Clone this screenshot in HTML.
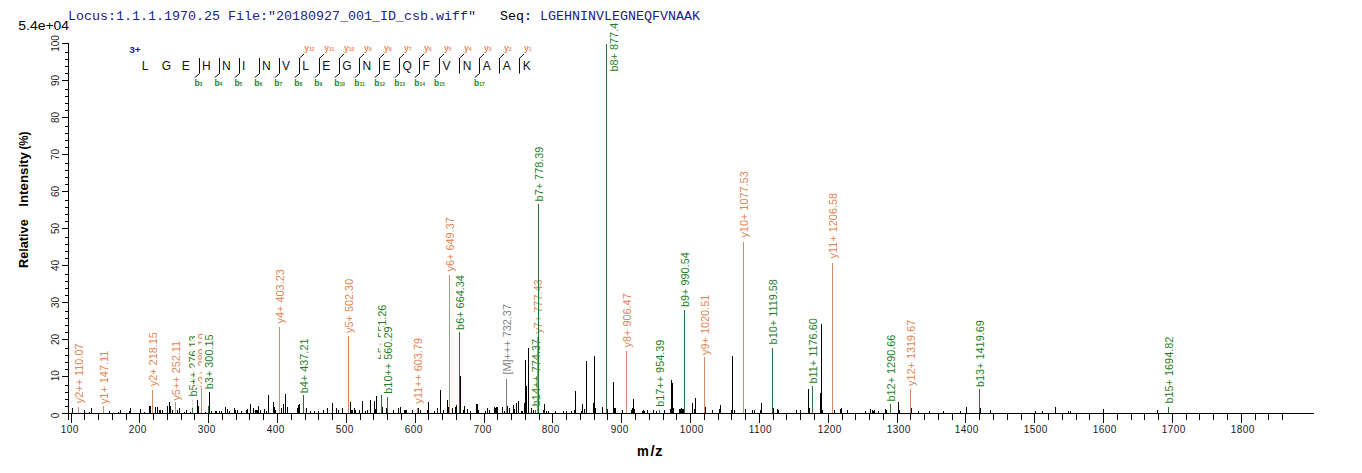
<!DOCTYPE html><html><head><meta charset="utf-8"><style>html,body{margin:0;padding:0;background:#fff;}svg{display:block;}text{font-family:"Liberation Sans",sans-serif;}.m{font-family:"Liberation Mono",monospace;}</style></head><body>
<svg width="1362" height="473" viewBox="0 0 1362 473">
<rect width="1362" height="473" fill="#fff"/>
<path d="M62 413.5H1314 M68.5 43V420 M62 413.5H68 M65 406.5H68 M65 399.5H68 M65 392.5H68 M65 385.5H68 M62 376.5H68 M65 369.5H68 M65 362.5H68 M65 355.5H68 M65 348.5H68 M62 339.5H68 M65 332.5H68 M65 325.5H68 M65 318.5H68 M65 311.5H68 M62 302.5H68 M65 295.5H68 M65 288.5H68 M65 281.5H68 M65 274.5H68 M62 265.5H68 M65 258.5H68 M65 251.5H68 M65 244.5H68 M65 237.5H68 M62 228.5H68 M65 221.5H68 M65 214.5H68 M65 207.5H68 M65 200.5H68 M62 191.5H68 M65 184.5H68 M65 177.5H68 M65 170.5H68 M65 163.5H68 M62 154.5H68 M65 147.5H68 M65 140.5H68 M65 133.5H68 M65 126.5H68 M62 117.5H68 M65 110.5H68 M65 103.5H68 M65 96.5H68 M65 89.5H68 M62 80.5H68 M65 73.5H68 M65 66.5H68 M65 59.5H68 M65 52.5H68 M62 43.5H68 M71.5 413V423 M84.5 413V420 M98.5 413V420 M112.5 413V420 M126.5 413V420 M139.5 413V423 M153.5 413V420 M167.5 413V420 M181.5 413V420 M194.5 413V420 M208.5 413V423 M222.5 413V420 M236.5 413V420 M249.5 413V420 M263.5 413V420 M277.5 413V423 M291.5 413V420 M305.5 413V420 M318.5 413V420 M332.5 413V420 M346.5 413V423 M360.5 413V420 M373.5 413V420 M387.5 413V420 M401.5 413V420 M415.5 413V423 M428.5 413V420 M442.5 413V420 M456.5 413V420 M470.5 413V420 M484.5 413V423 M497.5 413V420 M511.5 413V420 M525.5 413V420 M539.5 413V420 M552.5 413V423 M566.5 413V420 M580.5 413V420 M594.5 413V420 M607.5 413V420 M621.5 413V423 M635.5 413V420 M649.5 413V420 M663.5 413V420 M676.5 413V420 M690.5 413V423 M704.5 413V420 M718.5 413V420 M731.5 413V420 M745.5 413V420 M759.5 413V423 M773.5 413V420 M786.5 413V420 M800.5 413V420 M814.5 413V420 M828.5 413V423 M842.5 413V420 M855.5 413V420 M869.5 413V420 M883.5 413V420 M897.5 413V423 M910.5 413V420 M924.5 413V420 M938.5 413V420 M952.5 413V420 M965.5 413V423 M979.5 413V420 M993.5 413V420 M1007.5 413V420 M1021.5 413V420 M1034.5 413V423 M1048.5 413V420 M1062.5 413V420 M1076.5 413V420 M1089.5 413V420 M1103.5 413V423 M1117.5 413V420 M1131.5 413V420 M1144.5 413V420 M1158.5 413V420 M1172.5 413V423 M1186.5 413V420 M1199.5 413V420 M1213.5 413V420 M1227.5 413V420 M1241.5 413V423 M1255.5 413V420 M1268.5 413V420 M1282.5 413V420" stroke="#000" stroke-width="1" fill="none" shape-rendering="crispEdges"/>
<g font-size="10" letter-spacing="0.45" fill="#1a1a1a"><text x="60.8" y="432.6">100</text><text x="128.8" y="432.6">200</text><text x="197.8" y="432.6">300</text><text x="266.8" y="432.6">400</text><text x="335.8" y="432.6">500</text><text x="404.8" y="432.6">600</text><text x="473.8" y="432.6">700</text><text x="541.8" y="432.6">800</text><text x="610.8" y="432.6">900</text><text x="679.8" y="432.6">1000</text><text x="748.8" y="432.6">1100</text><text x="817.8" y="432.6">1200</text><text x="886.8" y="432.6">1300</text><text x="954.8" y="432.6">1400</text><text x="1023.8" y="432.6">1500</text><text x="1092.8" y="432.6">1600</text><text x="1161.8" y="432.6">1700</text><text x="1230.8" y="432.6">1800</text></g>
<g font-size="10" fill="#1a1a1a"><text transform="translate(59,415.5) rotate(-90)" text-anchor="middle">0</text><text transform="translate(59,375.7) rotate(-90)" text-anchor="middle">10</text><text transform="translate(59,339.5) rotate(-90)" text-anchor="middle">20</text><text transform="translate(59,302.5) rotate(-90)" text-anchor="middle">30</text><text transform="translate(59,265.5) rotate(-90)" text-anchor="middle">40</text><text transform="translate(59,228.5) rotate(-90)" text-anchor="middle">50</text><text transform="translate(59,191.5) rotate(-90)" text-anchor="middle">60</text><text transform="translate(59,154.5) rotate(-90)" text-anchor="middle">70</text><text transform="translate(59,117.5) rotate(-90)" text-anchor="middle">80</text><text transform="translate(59,80.5) rotate(-90)" text-anchor="middle">90</text><text transform="translate(59,43.5) rotate(-90)" text-anchor="middle">100</text></g>
<g font-size="13" font-weight="bold" fill="#000"><text transform="translate(28.1,267.9) rotate(-90)" textLength="48.6" lengthAdjust="spacingAndGlyphs">Relative</text><text transform="translate(28.1,206.7) rotate(-90)" textLength="54.6" lengthAdjust="spacingAndGlyphs">Intensity</text><text transform="translate(28.1,149.6) rotate(-90)" textLength="18.0" lengthAdjust="spacingAndGlyphs">(%)</text></g>
<g font-size="15" font-weight="bold" fill="#000"><text x="637.0" y="455.9" textLength="11.8" lengthAdjust="spacingAndGlyphs">m</text><text x="650.5" y="455.9">/</text><text x="655.0" y="455.9">z</text></g>
<path d="M78.5 407V413" stroke="#d28a66" stroke-width="1" shape-rendering="crispEdges"/>
<rect x="72.0" y="342.6" width="13.4" height="60.6" fill="#fff"/>
<text transform="translate(83.0,403.2) rotate(-90)" font-size="10.9" fill="#df8451">y2++ 110.07</text>
<path d="M103.5 406V413" stroke="#d28a66" stroke-width="1" shape-rendering="crispEdges"/>
<rect x="97.0" y="349.8" width="13.4" height="54.2" fill="#fff"/>
<text transform="translate(108.0,404.1) rotate(-90)" font-size="10.9" fill="#df8451">y1+ 147.11</text>
<path d="M152.5 390V413" stroke="#d28a66" stroke-width="1" shape-rendering="crispEdges"/>
<rect x="146.0" y="332.1" width="13.4" height="54.2" fill="#fff"/>
<text transform="translate(157.0,386.3) rotate(-90)" font-size="10.9" fill="#df8451">y2+ 218.15</text>
<path d="M175.5 402V413" stroke="#d28a66" stroke-width="1" shape-rendering="crispEdges"/>
<rect x="169.0" y="340.0" width="13.4" height="60.6" fill="#fff"/>
<text transform="translate(180.0,400.6) rotate(-90)" font-size="10.9" fill="#df8451">y5++ 252.11</text>
<path d="M192.5 400V408" stroke="#c9cfc9" stroke-width="1" stroke-dasharray="2 1" shape-rendering="crispEdges"/>
<path d="M192.5 408V413" stroke="#2a6f33" stroke-width="1" shape-rendering="crispEdges"/>
<rect x="186.0" y="335.3" width="13.4" height="61.2" fill="#fff"/>
<text transform="translate(197.0,396.5) rotate(-90)" font-size="10.9" fill="#1d7d26">b5++ 276.13</text>
<path d="M201.5 388V413" stroke="#d28a66" stroke-width="1" shape-rendering="crispEdges"/>
<rect x="195.0" y="333.3" width="13.4" height="54.2" fill="#fff"/>
<text transform="translate(206.0,387.5) rotate(-90)" font-size="10.9" fill="#df8451">y3+ 289.19</text>
<path d="M208.5 406V413" stroke="#2a6f33" stroke-width="1" shape-rendering="crispEdges"/>
<rect x="202.0" y="334.3" width="13.4" height="54.9" fill="#fff"/>
<text transform="translate(213.0,389.2) rotate(-90)" font-size="10.9" fill="#1d7d26">b3+ 300.15</text>
<path d="M279.5 327V413" stroke="#d28a66" stroke-width="1" shape-rendering="crispEdges"/>
<rect x="273.0" y="269.2" width="13.4" height="54.2" fill="#fff"/>
<text transform="translate(284.0,323.4) rotate(-90)" font-size="10.9" fill="#df8451">y4+ 403.23</text>
<path d="M303.5 395V413" stroke="#2a6f33" stroke-width="1" shape-rendering="crispEdges"/>
<rect x="297.0" y="338.5" width="13.4" height="54.9" fill="#fff"/>
<text transform="translate(308.0,393.3) rotate(-90)" font-size="10.9" fill="#1d7d26">b4+ 437.21</text>
<path d="M348.5 336V413" stroke="#d28a66" stroke-width="1" shape-rendering="crispEdges"/>
<rect x="342.0" y="278.8" width="13.4" height="54.2" fill="#fff"/>
<text transform="translate(353.0,333.0) rotate(-90)" font-size="10.9" fill="#df8451">y5+ 502.30</text>
<path d="M381.5 395V413" stroke="#2a6f33" stroke-width="1" shape-rendering="crispEdges"/>
<rect x="375.0" y="304.5" width="13.4" height="54.9" fill="#fff"/>
<text transform="translate(386.0,359.4) rotate(-90)" font-size="10.9" fill="#1d7d26">b5+ 551.26</text>
<path d="M387.5 397V413" stroke="#2a6f33" stroke-width="1" shape-rendering="crispEdges"/>
<rect x="381.0" y="326.4" width="13.4" height="67.3" fill="#fff"/>
<text transform="translate(392.0,393.7) rotate(-90)" font-size="10.9" fill="#1d7d26">b10++ 560.29</text>
<path d="M417.5 408V413" stroke="#d28a66" stroke-width="1" shape-rendering="crispEdges"/>
<rect x="411.0" y="337.1" width="13.4" height="66.7" fill="#fff"/>
<text transform="translate(422.0,403.8) rotate(-90)" font-size="10.9" fill="#df8451">y11++ 603.79</text>
<path d="M449.5 275V413" stroke="#d28a66" stroke-width="1" shape-rendering="crispEdges"/>
<rect x="443.0" y="217.2" width="13.4" height="54.2" fill="#fff"/>
<text transform="translate(454.0,271.4) rotate(-90)" font-size="10.9" fill="#df8451">y6+ 649.37</text>
<path d="M459.5 332V413" stroke="#2a6f33" stroke-width="1" shape-rendering="crispEdges"/>
<rect x="453.0" y="275.0" width="13.4" height="54.9" fill="#fff"/>
<text transform="translate(464.0,329.9) rotate(-90)" font-size="10.9" fill="#1d7d26">b6+ 664.34</text>
<path d="M506.5 379V413" stroke="#7f7f7f" stroke-width="1" shape-rendering="crispEdges"/>
<rect x="500.0" y="304.0" width="13.4" height="70.6" fill="#fff"/>
<text transform="translate(511.0,374.6) rotate(-90)" font-size="10.9" fill="#7f7f7f">[M]+++ 732.37</text>
<path d="M535.5 410V413" stroke="#2a6f33" stroke-width="1" shape-rendering="crispEdges"/>
<rect x="529.0" y="338.9" width="13.4" height="67.3" fill="#fff"/>
<text transform="translate(540.0,406.2) rotate(-90)" font-size="10.9" fill="#1d7d26">b14++ 774.37</text>
<path d="M537.5 337V413" stroke="#d28a66" stroke-width="1" shape-rendering="crispEdges"/>
<rect x="531.0" y="279.4" width="13.4" height="54.2" fill="#fff"/>
<text transform="translate(542.0,333.6) rotate(-90)" font-size="10.9" fill="#df8451">y7+ 777.43</text>
<path d="M538.5 204V413" stroke="#2a6f33" stroke-width="1" shape-rendering="crispEdges"/>
<rect x="532.0" y="146.6" width="13.4" height="54.9" fill="#fff"/>
<text transform="translate(543.0,201.4) rotate(-90)" font-size="10.9" fill="#1d7d26">b7+ 778.39</text>
<path d="M606.5 44V413" stroke="#2a6f33" stroke-width="1" shape-rendering="crispEdges"/>
<rect x="608.0" y="16.6" width="12.0" height="54.9" fill="#fff"/>
<text transform="translate(617.6,71.5) rotate(-90)" font-size="10.9" fill="#1d7d26">b8+ 877.46</text>
<path d="M626.5 351V413" stroke="#d28a66" stroke-width="1" shape-rendering="crispEdges"/>
<rect x="620.0" y="293.3" width="13.4" height="54.2" fill="#fff"/>
<text transform="translate(631.0,347.5) rotate(-90)" font-size="10.9" fill="#df8451">y8+ 906.47</text>
<path d="M659.5 410V413" stroke="#2a6f33" stroke-width="1" shape-rendering="crispEdges"/>
<rect x="653.0" y="339.5" width="13.4" height="67.3" fill="#fff"/>
<text transform="translate(664.0,406.8) rotate(-90)" font-size="10.9" fill="#1d7d26">b17++ 954.39</text>
<path d="M684.5 310V413" stroke="#2a6f33" stroke-width="1" shape-rendering="crispEdges"/>
<rect x="678.0" y="252.1" width="13.4" height="54.9" fill="#fff"/>
<text transform="translate(689.0,307.0) rotate(-90)" font-size="10.9" fill="#1d7d26">b9+ 990.54</text>
<path d="M704.5 357V413" stroke="#d28a66" stroke-width="1" shape-rendering="crispEdges"/>
<rect x="698.0" y="294.6" width="13.4" height="60.3" fill="#fff"/>
<text transform="translate(709.0,355.0) rotate(-90)" font-size="10.9" fill="#df8451">y9+ 1020.51</text>
<path d="M743.5 242V413" stroke="#d28a66" stroke-width="1" shape-rendering="crispEdges"/>
<rect x="737.0" y="171.2" width="13.4" height="66.4" fill="#fff"/>
<text transform="translate(748.0,237.6) rotate(-90)" font-size="10.9" fill="#df8451">y10+ 1077.53</text>
<path d="M772.5 348V413" stroke="#2a6f33" stroke-width="1" shape-rendering="crispEdges"/>
<rect x="766.0" y="277.4" width="13.4" height="67.0" fill="#fff"/>
<text transform="translate(777.0,344.4) rotate(-90)" font-size="10.9" fill="#1d7d26">b10+ 1119.58</text>
<path d="M812.5 386V413" stroke="#2a6f33" stroke-width="1" shape-rendering="crispEdges"/>
<rect x="806.0" y="316.5" width="13.4" height="67.0" fill="#fff"/>
<text transform="translate(817.0,383.5) rotate(-90)" font-size="10.9" fill="#1d7d26">b11+ 1176.60</text>
<path d="M832.5 263V413" stroke="#d28a66" stroke-width="1" shape-rendering="crispEdges"/>
<rect x="826.0" y="192.0" width="13.4" height="66.4" fill="#fff"/>
<text transform="translate(837.0,258.4) rotate(-90)" font-size="10.9" fill="#df8451">y11+ 1206.58</text>
<path d="M890.5 404V413" stroke="#2a6f33" stroke-width="1" shape-rendering="crispEdges"/>
<rect x="884.0" y="334.5" width="13.4" height="67.0" fill="#fff"/>
<text transform="translate(895.0,401.5) rotate(-90)" font-size="10.9" fill="#1d7d26">b12+ 1290.66</text>
<path d="M910.5 389V413" stroke="#d28a66" stroke-width="1" shape-rendering="crispEdges"/>
<rect x="904.0" y="319.6" width="13.4" height="66.4" fill="#fff"/>
<text transform="translate(915.0,386.0) rotate(-90)" font-size="10.9" fill="#df8451">y12+ 1319.67</text>
<path d="M979.5 389V413" stroke="#2a6f33" stroke-width="1" shape-rendering="crispEdges"/>
<rect x="973.0" y="320.1" width="13.4" height="67.0" fill="#fff"/>
<text transform="translate(984.0,387.1) rotate(-90)" font-size="10.9" fill="#1d7d26">b13+ 1419.69</text>
<path d="M1168.5 407V413" stroke="#2a6f33" stroke-width="1" shape-rendering="crispEdges"/>
<rect x="1162.0" y="336.6" width="13.4" height="67.0" fill="#fff"/>
<text transform="translate(1173.0,403.6) rotate(-90)" font-size="10.9" fill="#1d7d26">b15+ 1694.82</text>
<path d="M72.5 408V413M84.5 410V413M89.5 412V413M91.5 408V413M109.5 411V413M118.5 412V413M120.5 410V413M129.5 411V413M130.5 408V413M140.5 409V413M144.5 412V413M149.5 406V413M150.5 406V413M155.5 407V413M157.5 407V413M159.5 410V413M160.5 410V413M162.5 410V413M167.5 406V413M169.5 402V413M170.5 406V413M172.5 410V413M177.5 410V413M179.5 408V413M184.5 412V413M186.5 410V413M190.5 412V413M197.5 400V413M198.5 406V413M205.5 412V413M209.5 392V413M211.5 411V413M215.5 411V413M216.5 411V413M219.5 411V413M221.5 411V413M225.5 407V413M227.5 409V413M229.5 411V413M234.5 408V413M235.5 410V413M237.5 410V413M241.5 411V413M246.5 410V413M247.5 409V413M250.5 404V413M253.5 408V413M255.5 410V413M256.5 410V413M257.5 410V413M258.5 406V413M260.5 410V413M264.5 409V413M266.5 411V413M268.5 395V413M273.5 402V413M274.5 407V413M275.5 410V413M281.5 408V413M283.5 404V413M285.5 394V413M287.5 407V413M297.5 408V413M298.5 405V413M299.5 404V413M306.5 408V413M310.5 411V413M314.5 411V413M318.5 411V413M323.5 410V413M327.5 408V413M332.5 403V413M336.5 408V413M338.5 410V413M342.5 408V413M350.5 402V413M351.5 410V413M352.5 410V413M354.5 408V413M355.5 410V413M359.5 410V413M362.5 401V413M365.5 411V413M367.5 410V413M370.5 400V413M374.5 401V413M375.5 409V413M376.5 396V413M382.5 407V413M386.5 408V413M393.5 410V413M398.5 408V413M400.5 407V413M404.5 410V413M405.5 410V413M406.5 410V413M412.5 410V413M418.5 408V413M420.5 410V413M427.5 410V413M428.5 402V413M434.5 411V413M437.5 408V413M440.5 390V413M443.5 410V413M447.5 400V413M448.5 407V413M452.5 408V413M455.5 407V413M456.5 405V413M460.5 376V413M463.5 410V413M464.5 406V413M467.5 409V413M470.5 411V413M476.5 404V413M477.5 404V413M478.5 410V413M485.5 411V413M487.5 408V413M489.5 410V413M494.5 407V413M495.5 408V413M496.5 407V413M497.5 407V413M502.5 407V413M504.5 411V413M507.5 406V413M509.5 408V413M513.5 405V413M514.5 409V413M516.5 403V413M518.5 401V413M521.5 411V413M522.5 411V413M524.5 403V413M525.5 360V413M526.5 386V413M526.5 408V413M528.5 348V413M531.5 408V413M533.5 410V413M543.5 410V413M544.5 404V413M546.5 411V413M548.5 411V413M555.5 411V413M563.5 411V413M566.5 411V413M571.5 411V413M574.5 410V413M575.5 391V413M581.5 411V413M582.5 404V413M584.5 409V413M586.5 361V413M593.5 403V413M594.5 356V413M595.5 408V413M602.5 407V413M607.5 409V413M613.5 382V413M614.5 408V413M615.5 408V413M622.5 410V413M631.5 410V413M632.5 408V413M633.5 399V413M634.5 409V413M643.5 410V413M642.5 411V413M644.5 411V413M647.5 410V413M653.5 410V413M656.5 411V413M664.5 410V413M670.5 409V413M671.5 380V413M672.5 383V413M673.5 408V413M679.5 409V413M680.5 409V413M681.5 408V413M682.5 409V413M683.5 409V413M692.5 403V413M694.5 409V413M695.5 398V413M705.5 407V413M712.5 410V413M719.5 409V413M720.5 405V413M731.5 410V413M732.5 356V413M734.5 410V413M745.5 409V413M752.5 410V413M754.5 410V413M760.5 410V413M761.5 403V413M773.5 408V413M777.5 409V413M778.5 410V413M796.5 410V413M800.5 410V413M808.5 389V413M809.5 408V413M820.5 393V413M821.5 324V413M822.5 410V413M834.5 410V413M840.5 409V413M841.5 408V413M847.5 410V413M865.5 411V413M870.5 409V413M872.5 410V413M874.5 410V413M873.5 411V413M878.5 411V413M885.5 409V413M886.5 410V413M898.5 402V413M899.5 410V413M911.5 408V413M918.5 411V413M929.5 411V413M943.5 411V413M960.5 411V413M966.5 407V413M980.5 408V413M990.5 410V413M1035.5 411V413M1042.5 411V413M1055.5 407V413M1068.5 411V413M1070.5 411V413M1103.5 409V413M1157.5 410V413" stroke="#000" stroke-width="1" fill="none" shape-rendering="crispEdges"/>
<rect x="0" y="0" width="1362" height="23.4" fill="#fff"/>
<text class="m" x="68" y="19.7" font-size="13.33" fill="#20208a" xml:space="preserve">Locus:1.1.1.1970.25 File:"20180927_001_ID_csb.wiff"</text>
<text class="m" x="500" y="19.7" font-size="13.33" fill="#000" xml:space="preserve">Seq:</text>
<text class="m" x="540" y="19.7" font-size="13.33" fill="#20208a">LGEHNINVLEGNEQFVNAAK</text>
<text x="18.3" y="29.9" font-size="12.5" fill="#000" textLength="50.8" lengthAdjust="spacingAndGlyphs">5.4e+04</text>
<g font-size="12" fill="#111"><text x="141.7" y="69.8">L</text><text x="161.8" y="69.8">G</text><text x="181.8" y="69.8">E</text><text x="201.9" y="69.8">H</text><text x="221.9" y="69.8">N</text><text x="242.0" y="69.8">I</text><text x="262.1" y="69.8">N</text><text x="282.1" y="69.8">V</text><text x="302.2" y="69.8">L</text><text x="322.2" y="69.8">E</text><text x="342.3" y="69.8">G</text><text x="362.4" y="69.8">N</text><text x="382.4" y="69.8">E</text><text x="402.5" y="69.8">Q</text><text x="422.5" y="69.8">F</text><text x="442.6" y="69.8">V</text><text x="462.7" y="69.8">N</text><text x="482.7" y="69.8">A</text><text x="502.8" y="69.8">A</text><text x="522.8" y="69.8">K</text></g>
<text x="129.2" y="52.7" font-size="9" font-weight="bold" fill="#1c1cb0" textLength="11.5" lengthAdjust="spacingAndGlyphs">3+</text>
<path d="M199.5 58V73.6 M199.5 73.6L194.7 77.6 M219.5 58V73.6 M219.5 73.6L214.7 77.6 M239.5 58V73.6 M239.5 73.6L234.7 77.6 M259.5 58V73.6 M259.5 73.6L254.7 77.6 M279.5 58V73.6 M279.5 73.6L274.7 77.6 M299.5 58V73.6 M299.5 73.6L294.7 77.6 M299.5 58.3L304.1 53.9 M319.5 58V73.6 M319.5 73.6L314.7 77.6 M319.5 58.3L324.1 53.9 M339.5 58V73.6 M339.5 73.6L334.7 77.6 M339.5 58.3L344.1 53.9 M359.5 58V73.6 M359.5 73.6L354.7 77.6 M359.5 58.3L364.1 53.9 M379.5 58V73.6 M379.5 73.6L374.7 77.6 M379.5 58.3L384.1 53.9 M399.5 58V73.6 M399.5 73.6L394.7 77.6 M399.5 58.3L404.1 53.9 M419.5 58V73.6 M419.5 73.6L414.7 77.6 M419.5 58.3L424.1 53.9 M439.5 58V73.6 M439.5 73.6L434.7 77.6 M439.5 58.3L444.1 53.9 M459.5 58V73.6 M459.5 58.3L464.1 53.9 M479.5 58V73.6 M479.5 73.6L474.7 77.6 M479.5 58.3L484.1 53.9 M499.5 58V73.6 M499.5 58.3L504.1 53.9 M519.5 58V73.6 M519.5 58.3L524.1 53.9" stroke="#111" stroke-width="1" fill="none"/>
<text x="194.4" y="86" font-size="8.5" font-weight="bold" fill="#2a8524">b<tspan font-size="5" font-weight="bold">3</tspan></text><text x="214.4" y="86" font-size="8.5" font-weight="bold" fill="#2a8524">b<tspan font-size="5" font-weight="bold">4</tspan></text><text x="234.4" y="86" font-size="8.5" font-weight="bold" fill="#2a8524">b<tspan font-size="5" font-weight="bold">5</tspan></text><text x="254.3" y="86" font-size="8.5" font-weight="bold" fill="#2a8524">b<tspan font-size="5" font-weight="bold">6</tspan></text><text x="274.3" y="86" font-size="8.5" font-weight="bold" fill="#2a8524">b<tspan font-size="5" font-weight="bold">7</tspan></text><text x="294.3" y="86" font-size="8.5" font-weight="bold" fill="#2a8524">b<tspan font-size="5" font-weight="bold">8</tspan></text><text x="304.2" y="50.6" font-size="8.5" font-weight="bold" fill="#f08a5d">y<tspan font-size="5" font-weight="bold" dy="0.4">12</tspan></text><text x="314.3" y="86" font-size="8.5" font-weight="bold" fill="#2a8524">b<tspan font-size="5" font-weight="bold">9</tspan></text><text x="324.2" y="50.6" font-size="8.5" font-weight="bold" fill="#f08a5d">y<tspan font-size="5" font-weight="bold" dy="0.4">11</tspan></text><text x="334.2" y="86" font-size="8.5" font-weight="bold" fill="#2a8524">b<tspan font-size="5" font-weight="bold">10</tspan></text><text x="344.1" y="50.6" font-size="8.5" font-weight="bold" fill="#f08a5d">y<tspan font-size="5" font-weight="bold" dy="0.4">10</tspan></text><text x="354.2" y="86" font-size="8.5" font-weight="bold" fill="#2a8524">b<tspan font-size="5" font-weight="bold">11</tspan></text><text x="364.1" y="50.6" font-size="8.5" font-weight="bold" fill="#f08a5d">y<tspan font-size="5" font-weight="bold" dy="0.4">9</tspan></text><text x="374.2" y="86" font-size="8.5" font-weight="bold" fill="#2a8524">b<tspan font-size="5" font-weight="bold">12</tspan></text><text x="384.1" y="50.6" font-size="8.5" font-weight="bold" fill="#f08a5d">y<tspan font-size="5" font-weight="bold" dy="0.4">8</tspan></text><text x="394.2" y="86" font-size="8.5" font-weight="bold" fill="#2a8524">b<tspan font-size="5" font-weight="bold">13</tspan></text><text x="404.1" y="50.6" font-size="8.5" font-weight="bold" fill="#f08a5d">y<tspan font-size="5" font-weight="bold" dy="0.4">7</tspan></text><text x="414.2" y="86" font-size="8.5" font-weight="bold" fill="#2a8524">b<tspan font-size="5" font-weight="bold">14</tspan></text><text x="424.1" y="50.6" font-size="8.5" font-weight="bold" fill="#f08a5d">y<tspan font-size="5" font-weight="bold" dy="0.4">6</tspan></text><text x="434.1" y="86" font-size="8.5" font-weight="bold" fill="#2a8524">b<tspan font-size="5" font-weight="bold">15</tspan></text><text x="444.0" y="50.6" font-size="8.5" font-weight="bold" fill="#f08a5d">y<tspan font-size="5" font-weight="bold" dy="0.4">5</tspan></text><text x="464.0" y="50.6" font-size="8.5" font-weight="bold" fill="#f08a5d">y<tspan font-size="5" font-weight="bold" dy="0.4">4</tspan></text><text x="474.1" y="86" font-size="8.5" font-weight="bold" fill="#2a8524">b<tspan font-size="5" font-weight="bold">17</tspan></text><text x="484.0" y="50.6" font-size="8.5" font-weight="bold" fill="#f08a5d">y<tspan font-size="5" font-weight="bold" dy="0.4">3</tspan></text><text x="504.0" y="50.6" font-size="8.5" font-weight="bold" fill="#f08a5d">y<tspan font-size="5" font-weight="bold" dy="0.4">2</tspan></text><text x="523.9" y="50.6" font-size="8.5" font-weight="bold" fill="#f08a5d">y<tspan font-size="5" font-weight="bold" dy="0.4">1</tspan></text>
</svg></body></html>
